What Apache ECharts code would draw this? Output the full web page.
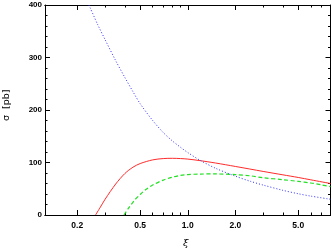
<!DOCTYPE html>
<html><head><meta charset="utf-8">
<script src="https://cdn.jsdelivr.net/npm/echarts@6/dist/echarts.min.js"></script>
<style>html,body{margin:0;padding:0;background:#fff}#c{width:332px;height:249px}</style>
</head><body><div id="c"></div>
<script>
// x tick labels (log axis) and minor ticks
const xTickLabels = [0.2, 0.5, 1.0, 2.0, 5.0];
const xMinorTicks = [0.3, 0.4, 0.6, 0.7, 0.8, 0.9, 3, 4, 6, 7];
const yTickLabels = [0, 100, 200, 300, 400];

// red solid
const xiRed = [0.261, 0.28, 0.30, 0.35, 0.40, 0.45, 0.50, 0.60, 0.70, 0.80, 0.90, 1.0, 1.2, 1.5, 2.0, 3.0, 4.0, 5.0, 6.0, 8.0];
const red   = [0, 15, 30, 59, 79, 91, 98, 105, 107.5, 108, 107.5, 106.5, 103.5, 99, 92.5, 83, 76.5, 71.5, 67, 60];
// green dashed
const xiGreen = [0.395, 0.42, 0.46, 0.50, 0.54, 0.60, 0.70, 0.80, 0.90, 1.0, 1.2, 1.5, 2.0, 2.5, 3.0, 4.0, 5.0, 6.0, 7.0, 8.0];
const green   = [0, 12, 28, 39, 48, 57, 66.5, 72, 75.5, 77, 78, 78.2, 77, 74.5, 71, 67.3, 64, 61, 57.5, 54];
// blue dotted
const xiBlue = [0.237, 0.27, 0.30, 0.35, 0.40, 0.45, 0.50, 0.60, 0.70, 0.80, 0.90, 1.0, 1.2, 1.5, 2.0, 2.5, 3.0, 4.0, 5.0, 6.0, 8.0];
const blue   = [400, 362, 334, 294, 262, 235, 212, 180, 157, 141, 129, 119, 104, 89, 74, 64, 57, 47, 40.5, 36, 30];

const pairs = (xs, ys) => xs.map((x, i) => [x, ys[i]]);
const font = 'Liberation Sans';

function xAx(pos, ticks, len, labels) {
  return {
    type: 'log', logBase: 10, min: 0.125, max: 8, position: pos,
    axisLine: {show: true, onZero: false, lineStyle: {color: '#000', width: 1}},
    axisTick: {show: true, inside: true, length: len, customValues: ticks, lineStyle: {color: '#000'}},
    axisLabel: labels ? {show: true, customValues: xTickLabels, formatter: v => Number(v).toFixed(1),
      color: '#000', fontFamily: font, fontWeight: 'bold', fontSize: 8.5, margin: 6} : {show: false},
    splitLine: {show: false}, minorTick: {show: false}, minorSplitLine: {show: false}
  };
}
function yAx(pos, labels) {
  return {
    type: 'value', min: 0, max: 400, interval: 100, position: pos,
    axisLine: {show: true, onZero: false, lineStyle: {color: '#000', width: 1}},
    axisTick: {show: true, inside: true, length: 5, lineStyle: {color: '#000'}},
    minorTick: {show: true, splitNumber: 5, length: 2.5, lineStyle: {color: '#000'}},
    axisLabel: labels ? {show: true, color: '#000', fontFamily: font, fontWeight: 'bold', fontSize: 8, margin: 3} : {show: false},
    splitLine: {show: false}
  };
}

const chart = echarts.init(document.getElementById('c'), null, {renderer: 'canvas'});
chart.setOption({
  animation: false,
  backgroundColor: '#fff',
  grid: {left: 45, right: 1.5, top: 5, bottom: 34, containLabel: false},
  xAxis: [
    xAx('bottom', xTickLabels, 5, true),
    xAx('bottom', xMinorTicks, 2.5, false),
    xAx('top', xTickLabels, 5, false),
    xAx('top', xMinorTicks, 2.5, false)
  ],
  yAxis: [yAx('left', true), yAx('right', false)],
  graphic: [
    {type: 'text', left: 183, top: 238, style: {text: 'ξ', fontFamily: 'DejaVu Serif', fontStyle: 'italic', fontSize: 10, fill: '#000'}},
    {type: 'text', x: 2, y: 121, rotation: Math.PI / 2,
      style: {text: 'σ  [pb]', fontFamily: 'DejaVu Sans', fontSize: 9.5, fill: '#000', align: 'left', verticalAlign: 'top'}}
  ],
  series: [
    {type: 'line', name: 'red', data: pairs(xiRed, red), showSymbol: false, smooth: 0.3, clip: true,
      lineStyle: {color: '#ff2a2a', width: 1, type: 'solid'}},
    {type: 'line', name: 'green', data: pairs(xiGreen, green), showSymbol: false, smooth: 0.3, clip: true,
      lineStyle: {color: '#22e022', width: 1.2, type: [4, 2.5]}},
    {type: 'line', name: 'blue', data: pairs(xiBlue, blue), showSymbol: false, smooth: 0.3, clip: true,
      lineStyle: {color: '#3030ff', width: 1, type: [1, 2]}}
  ]
});
</script></body></html>
